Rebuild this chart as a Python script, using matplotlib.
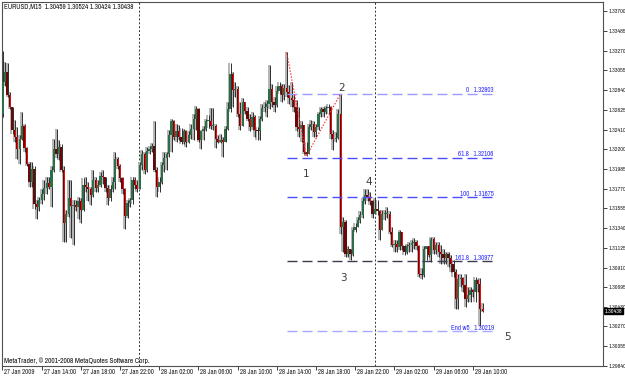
import numpy as np
import matplotlib
matplotlib.use('Agg')
import matplotlib.pyplot as plt
import matplotlib.transforms as mtransforms

#Dash lengths are given in points, not scaled by line width.
plt.rcParams['lines.scale_dashes'] = False

symbol_text = "EURUSD,M15  1.30459 1.30524 1.30424 1.30438"
copyright_text = "MetaTrader, \u00a9 2001-2008 MetaQuotes Software Corp."

#M15 candles, 27 Jan 2009 10:00 onwards
first_open = 1.3258
closes = [
    1.3293, 1.3304, 1.3279, 1.3266, 1.3241, 1.3233, 1.3220, 1.3231, 1.3245, 1.3221,
    1.3204, 1.3184, 1.3198, 1.3160, 1.3157, 1.3164, 1.3171, 1.3178, 1.3183, 1.3179,
    1.3197, 1.3220, 1.3215, 1.3222, 1.3197, 1.3139, 1.3149, 1.3167, 1.3158, 1.3159,
    1.3157, 1.3163, 1.3154, 1.3181, 1.3179, 1.3176, 1.3170, 1.3186, 1.3178, 1.3181,
    1.3191, 1.3189, 1.3178, 1.3167, 1.3177, 1.3184, 1.3209, 1.3202, 1.3188, 1.3177,
    1.3147, 1.3161, 1.3164, 1.3186, 1.3181, 1.3177, 1.3203, 1.3215, 1.3197, 1.3218,
    1.3220, 1.3223, 1.3197, 1.3179, 1.3184, 1.3203, 1.3210,
    1.3214, 1.3235, 1.3250, 1.3233, 1.3239, 1.3233, 1.3228, 1.3239, 1.3228, 1.3235,
    1.3242, 1.3253, 1.3263, 1.3230, 1.3239, 1.3242, 1.3250, 1.3250, 1.3245, 1.3245,
    1.3231, 1.3228, 1.3230, 1.3228, 1.3242, 1.3263, 1.3302, 1.3284, 1.3285, 1.3258,
    1.3245, 1.3271, 1.3261, 1.3253, 1.3244, 1.3255, 1.3241, 1.3239, 1.3253, 1.3265,
    1.3266, 1.3269, 1.3285, 1.3271, 1.3268, 1.3283, 1.3289, 1.3279, 1.3286, 1.3282,
    1.3275, 1.3273, 1.3266, 1.3244, 1.3242, 1.3246, 1.3217, 1.3215, 1.3244, 1.3247,
    1.3238, 1.3244, 1.3258, 1.3263, 1.3260, 1.3264, 1.3266, 1.3236, 1.3231,
    1.3232, 1.3258, 1.3135, 1.3141, 1.3106, 1.3111, 1.3106, 1.3132, 1.3135, 1.3143,
    1.3148, 1.3163, 1.3170, 1.3167, 1.3163, 1.3149, 1.3155, 1.3152, 1.3132, 1.3149,
    1.3149, 1.3149, 1.3130, 1.3116, 1.3117, 1.3113, 1.3130, 1.3114, 1.3108, 1.3114,
    1.3116, 1.3118, 1.3119, 1.3114, 1.3084, 1.3083, 1.3111, 1.3114, 1.3105, 1.3122,
    1.3110, 1.3116, 1.3108, 1.3106, 1.3101, 1.3106, 1.3101, 1.3095, 1.3086, 1.3057,
    1.3079, 1.3080, 1.3072, 1.3057, 1.3061, 1.3067, 1.3065, 1.3078, 1.3073, 1.3046,
    1.30438]
highs = [
    1.3326, 1.3315, 1.3313, 1.3282, 1.3266, 1.3252, 1.3244, 1.3235, 1.3260, 1.3247,
    1.3222, 1.3206, 1.3206, 1.3201, 1.3165, 1.3168, 1.3176, 1.3186, 1.3189, 1.3189,
    1.3201, 1.3231, 1.3242, 1.3230, 1.3225, 1.3201, 1.3154, 1.3186, 1.3186, 1.3165,
    1.3165, 1.3168, 1.3167, 1.3188, 1.3189, 1.3184, 1.3179, 1.3197, 1.3189, 1.3186,
    1.3195, 1.3197, 1.3190, 1.3181, 1.3181, 1.3189, 1.3217, 1.3211, 1.3204, 1.3189,
    1.3178, 1.3165, 1.3167, 1.3190, 1.3189, 1.3186, 1.3206, 1.3219, 1.3217, 1.3222,
    1.3223, 1.3226, 1.3250, 1.3200, 1.3189, 1.3206, 1.3217,
    1.3217, 1.3241, 1.3253, 1.3252, 1.3247, 1.3246, 1.3243, 1.3242, 1.3241, 1.3239,
    1.3247, 1.3258, 1.3267, 1.3265, 1.3241, 1.3245, 1.3253, 1.3257, 1.3264, 1.3265,
    1.3247, 1.3235, 1.3236, 1.3233, 1.3245, 1.3271, 1.3313, 1.3304, 1.3293, 1.3289,
    1.3271, 1.3275, 1.3271, 1.3266, 1.3258, 1.3260, 1.3257, 1.3244, 1.3256, 1.3269,
    1.3271, 1.3273, 1.3311, 1.3291, 1.3277, 1.3288, 1.3293, 1.3291, 1.3291, 1.3325,
    1.3290, 1.3293, 1.3280, 1.3273, 1.3266, 1.3250, 1.3244, 1.3228, 1.3247, 1.3252,
    1.3250, 1.3247, 1.3260, 1.3266, 1.3266, 1.3267, 1.3269, 1.3267, 1.3241,
    1.3238, 1.3263, 1.32803, 1.3146, 1.3143, 1.3114, 1.3111, 1.3135, 1.3139, 1.3146,
    1.3152, 1.3167, 1.3176, 1.3176, 1.3173, 1.3165, 1.3167, 1.3165, 1.3154, 1.3154,
    1.3154, 1.3157, 1.3152, 1.3135, 1.3121, 1.3121, 1.3132, 1.3130, 1.3116, 1.3117,
    1.3119, 1.3121, 1.3123, 1.3121, 1.3116, 1.3091, 1.3115, 1.3115, 1.3114, 1.3124,
    1.3124, 1.3119, 1.3119, 1.3116, 1.3111, 1.3108, 1.3108, 1.3105, 1.3099, 1.3089,
    1.3084, 1.3084, 1.3081, 1.3084, 1.3070, 1.3070, 1.3068, 1.3081, 1.3079, 1.3080,
    1.30524]
lows = [
    1.3255, 1.3288, 1.3277, 1.3263, 1.3236, 1.3228, 1.3209, 1.3204, 1.3230, 1.3217,
    1.3201, 1.3179, 1.3179, 1.3155, 1.3144, 1.3152, 1.3160, 1.3165, 1.3171, 1.3176,
    1.3157, 1.3195, 1.3210, 1.3208, 1.3195, 1.3119, 1.3119, 1.3146, 1.3123, 1.3116,
    1.3152, 1.3144, 1.3139, 1.3152, 1.3173, 1.3163, 1.3159, 1.3168, 1.3173, 1.3173,
    1.3179, 1.3182, 1.3173, 1.3159, 1.3163, 1.3173, 1.3176, 1.3198, 1.3184, 1.3171,
    1.3133, 1.3145, 1.3157, 1.3160, 1.3176, 1.3173, 1.3176, 1.3197, 1.3193, 1.3195,
    1.3215, 1.3217, 1.3195, 1.3168, 1.3173, 1.3182, 1.3195,
    1.3197, 1.3211, 1.3217, 1.3230, 1.3228, 1.3230, 1.3225, 1.3225, 1.3222, 1.3226,
    1.3231, 1.3230, 1.3241, 1.3228, 1.3220, 1.3230, 1.3239, 1.3243, 1.3242, 1.3241,
    1.3221, 1.3226, 1.3226, 1.3211, 1.3228, 1.3241, 1.3260, 1.3266, 1.3277, 1.3255,
    1.3241, 1.3258, 1.3258, 1.3250, 1.3239, 1.3241, 1.3233, 1.3230, 1.3230, 1.3250,
    1.3260, 1.3255, 1.3263, 1.3266, 1.3260, 1.3266, 1.3280, 1.3271, 1.3273, 1.3277,
    1.3269, 1.3266, 1.3260, 1.3239, 1.3233, 1.3228, 1.3215, 1.3212, 1.3215, 1.3241,
    1.3233, 1.3233, 1.3241, 1.3255, 1.3255, 1.3258, 1.3258, 1.3231, 1.3219,
    1.3228, 1.3231, 1.3128, 1.3108, 1.3103, 1.3103, 1.3099, 1.3104, 1.3130, 1.3135,
    1.3139, 1.3145, 1.3160, 1.3163, 1.3159, 1.3145, 1.3149, 1.3148, 1.3121, 1.3141,
    1.3143, 1.3145, 1.3128, 1.3113, 1.3108, 1.3108, 1.3110, 1.3110, 1.3105, 1.3106,
    1.3108, 1.3108, 1.3111, 1.3110, 1.3081, 1.3079, 1.3081, 1.3099, 1.3102, 1.3097,
    1.3106, 1.3106, 1.3103, 1.3095, 1.3095, 1.3095, 1.3092, 1.3086, 1.3081, 1.3046,
    1.3046, 1.3070, 1.3065, 1.3048, 1.3054, 1.3054, 1.3059, 1.3054, 1.3065, 1.3027,
    1.30424]

time_labels = ["27 Jan 2009", "27 Jan 14:00", "27 Jan 18:00", "27 Jan 22:00",
               "28 Jan 02:00", "28 Jan 06:00", "28 Jan 10:00", "28 Jan 14:00",
               "28 Jan 18:00", "28 Jan 22:00", "29 Jan 02:00", "29 Jan 06:00",
               "29 Jan 10:00"]
price_ticks = [1.33700, 1.33485, 1.33270, 1.33055, 1.32840, 1.32625, 1.32410,
               1.32200, 1.31985, 1.31770, 1.31555, 1.31340, 1.31125, 1.30910,
               1.30695, 1.30480, 1.30270, 1.30055, 1.29840]

fib_names = ["0", "61.8", "100", "161.8", "End w5"]
fib_prices = [1.32803, 1.32106, 1.31675, 1.30977, 1.30219]
fib_colors = ['#9a9aff', '#4d4dff', '#4d4dff', '#3a3a50', '#a8a8ff']

zigzag_idx = [116, 124, 138]
zigzag_prices = [1.3325, 1.3212, 1.32803]

wave_names = ["1", "2", "3", "4", "5"]
wave_idx = [124, 138.2, 139, 149.5, 206]
wave_prices = [1.3193, 1.3286, 1.3080, 1.3184, 1.3015]

day_breaks = [55.8, 152]
last_price = 1.30438

W, H = 625, 378
BULL = '#2c6e4a'
BEAR = '#6e0606'
FONT = ['Archivo Narrow', 'DejaVu Sans']
SMALL = 4.9


def draw_candles(ax):
    c = np.array(closes)
    o = np.concatenate([[first_open], c[:-1]])
    h = np.maximum(np.array(highs), np.maximum(o, c))
    l = np.minimum(np.array(lows), np.minimum(o, c))
    idx = np.arange(len(c))
    #light grey "3D" shadow and the dark wick
    ax.vlines(idx - 0.35, l, h, colors='#b4b4b4', lw=1.4, zorder=2)
    ax.vlines(idx + 0.1, l, h, colors='#2e2e2e', lw=0.7, zorder=3)
    lo = np.minimum(o, c)
    hgt = np.maximum(np.abs(c - o), 0.00011)
    bull = c >= o
    ax.bar(idx[bull], hgt[bull], bottom=lo[bull], width=0.85, color=BULL, lw=0, zorder=4)
    ax.bar(idx[~bull], hgt[~bull], bottom=lo[~bull], width=0.85, color=BEAR, lw=0, zorder=4)
    ax.bar(idx[~bull] + 0.25, hgt[~bull], bottom=lo[~bull], width=0.3, color='#e01010', lw=0, zorder=5)


fig = plt.figure(figsize=(W / 100, H / 100), dpi=100)
fig.patch.set_facecolor('white')
ax = fig.add_axes([2 / W, 12 / H, 601 / W, 364 / H])
ax.set_facecolor('white')

x_min = -0.2
ax.set_xlim(x_min, x_min + 601 / 2.45)
ax.set_ylim(1.29840, 1.33798)

for j in day_breaks:
    ax.axvline(j, color='#303030', lw=0.7, ls=(0, (1.4, 1.4)), zorder=1)

draw_candles(ax)

#Fibonacci projection levels
for name, p, col in zip(fib_names, fib_prices, fib_colors):
    ax.hlines(p, 116, 200.5, colors=col, lw=1.0, linestyles=[(0, (7.2, 3.6))], zorder=6)
    ax.text(200.5, p + 0.00004, name + "   " + "%.5f" % p, ha='right', va='bottom',
            fontsize=SMALL, color='#2a2aff', family=FONT, zorder=7)

ax.plot(zigzag_idx, zigzag_prices, color='#ff3030', ls=(0, (1, 1.2)), lw=0.9, zorder=6)

for name, j, p in zip(wave_names, wave_idx, wave_prices):
    ax.text(j, p, name, ha='center', va='center', fontsize=7.5, color='#3c3c3c',
            family='DejaVu Sans', zorder=7)

#Axes frame and price scale on the right
for s in ax.spines.values():
    s.set_color('#505050')
    s.set_linewidth(0.8)
ax.yaxis.tick_right()
ax.set_yticks(price_ticks)
ax.set_yticklabels(["%.5f" % p for p in price_ticks], family=FONT)
ax.tick_params(axis='y', length=3, width=0.6, labelsize=4.3, pad=1.0, colors='#202020')

ax.set_xticks([16 * k for k in range(len(time_labels))])
ax.set_xticklabels([])
ax.tick_params(axis='x', length=3, width=0.6, colors='#202020')
lab_trans = mtransforms.offset_copy(ax.get_xaxis_transform(), fig=fig, x=2, y=-6, units='dots')
for k, lab in enumerate(time_labels):
    ax.text(16 * k, 0, lab, transform=lab_trans, ha='left', va='center',
            fontsize=SMALL, color='#202020', family=FONT, clip_on=False)

#Current bid box, drawn over the 1.30480 scale label as the terminal does
bid_trans = mtransforms.offset_copy(ax.get_yaxis_transform(), fig=fig, x=1.5, y=0, units='dots')
ax.text(1.0, last_price, "%.5f" % last_price, transform=bid_trans, ha='left', va='center',
        fontsize=4.3, color='white', family=FONT, clip_on=False, zorder=10,
        bbox=dict(boxstyle='square,pad=0.12', fc='black', ec='black'))

fig.text(4 / W, 1 - 6 / H, symbol_text, ha='left', va='center', fontsize=5.1,
         color='#101010', family=FONT)
fig.text(4 / W, 1 - 361 / H, copyright_text, ha='left', va='center', fontsize=5.3,
         color='#101010', family=FONT)

fig.savefig('out.png', dpi=100, facecolor='white')
